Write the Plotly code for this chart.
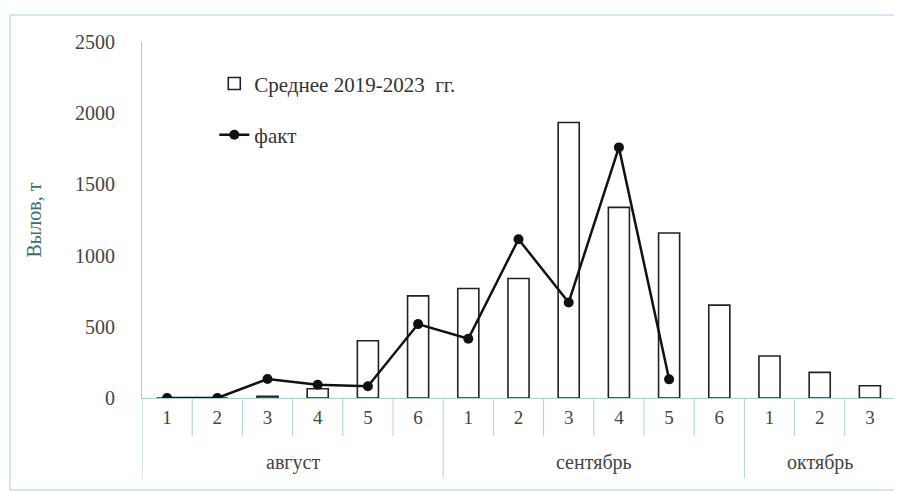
import plotly.graph_objects as go

months = ["август", "сентябрь", "октябрь"]
month_sizes = [6, 6, 3]
pentads = ["1", "2", "3", "4", "5", "6", "1", "2", "3", "4", "5", "6", "1", "2", "3"]
categories = ["авг-1", "авг-2", "авг-3", "авг-4", "авг-5", "авг-6",
              "сен-1", "сен-2", "сен-3", "сен-4", "сен-5", "сен-6",
              "окт-1", "окт-2", "окт-3"]
avg_2019_2023 = [0, 0, 12, 65, 402, 717, 769, 839, 1935, 1339, 1159, 652, 295, 180, 86]
fact = [0, 0, 133, 93, 82, 519, 416, 1115, 671, 1760, 131]
y_ticks = [0, 500, 1000, 1500, 2000, 2500]

FONT = "Liberation Serif"
AXIS_COLOR = "#a9d3d3"

# page body adds an 8px offset; compensate in margins
L, T, PW, PH = 134, 34, 753, 356
B = 493 - T - PH
R = 902 - L - PW

fig = go.Figure()
fig.add_trace(go.Bar(
    x=categories, y=avg_2019_2023,
    name="Среднее 2019-2023  гг.",
    marker=dict(color="white", line=dict(color="#222", width=1.6)),
    legendgroup="a",
))
fig.add_trace(go.Scatter(
    x=categories[:len(fact)], y=fact,
    name="факт", mode="lines+markers",
    line=dict(color="#111", width=2.5),
    marker=dict(color="#111", size=10),
    legendgroup="b",
))

shapes = []
n = len(categories)
boundaries = [0]
for s in month_sizes:
    boundaries.append(boundaries[-1] + s)
for i in range(n + 1):
    long = i in boundaries
    shapes.append(dict(
        type="line", xref="x", yref="paper",
        x0=i - 0.5, x1=i - 0.5, y0=0,
        y1=-80 / PH if long else -38 / PH,
        line=dict(color=AXIS_COLOR, width=1),
    ))
shapes.append(dict(
    type="rect", xref="paper", yref="paper",
    x0=-132 / PW, x1=757 / PW,
    y0=-92 / PH, y1=1 + 27 / PH,
    line=dict(color=AXIS_COLOR, width=1), layer="below",
))

annotations = []
for m, a, b in zip(months, boundaries[:-1], boundaries[1:]):
    annotations.append(dict(
        text=m, xref="x", yref="paper",
        x=(a + b - 1) / 2, y=-64 / PH,
        showarrow=False, yanchor="middle",
        font=dict(family=FONT, size=20, color="#444"),
    ))

fig.update_layout(
    width=902, height=493,
    margin=dict(l=L, r=R, t=T, b=B),
    paper_bgcolor="white", plot_bgcolor="white",
    font=dict(family=FONT, size=18, color="#444"),
    bargap=0.58,
    showlegend=True,
    legend=dict(
        x=0.096, y=0.94, xanchor="left", yanchor="top",
        bgcolor="rgba(0,0,0,0)",
        font=dict(family=FONT, size=21, color="#333"),
        traceorder="grouped", tracegroupgap=21,
    ),
    xaxis=dict(
        type="category", range=[-0.5, n - 0.5],
        tickvals=categories, ticktext=pentads,
        showline=True, linecolor=AXIS_COLOR, linewidth=1,
        ticks="", ticklabelstandoff=2,
        tickfont=dict(family=FONT, size=19, color="#444"),
        showgrid=False, zeroline=False, automargin=False,
    ),
    yaxis=dict(
        range=[0, 2500], tickvals=y_ticks,
        showline=True, linecolor=AXIS_COLOR, linewidth=1,
        ticks="", ticklabelstandoff=22,
        tickfont=dict(family=FONT, size=20, color="#444"),
        showgrid=False, zeroline=False, automargin=False,
        title=dict(text="Вылов, т", font=dict(family=FONT, size=20, color="#3d6e6e"), standoff=28),
    ),
    shapes=shapes,
    annotations=annotations,
)

fig.write_html("out.html")
